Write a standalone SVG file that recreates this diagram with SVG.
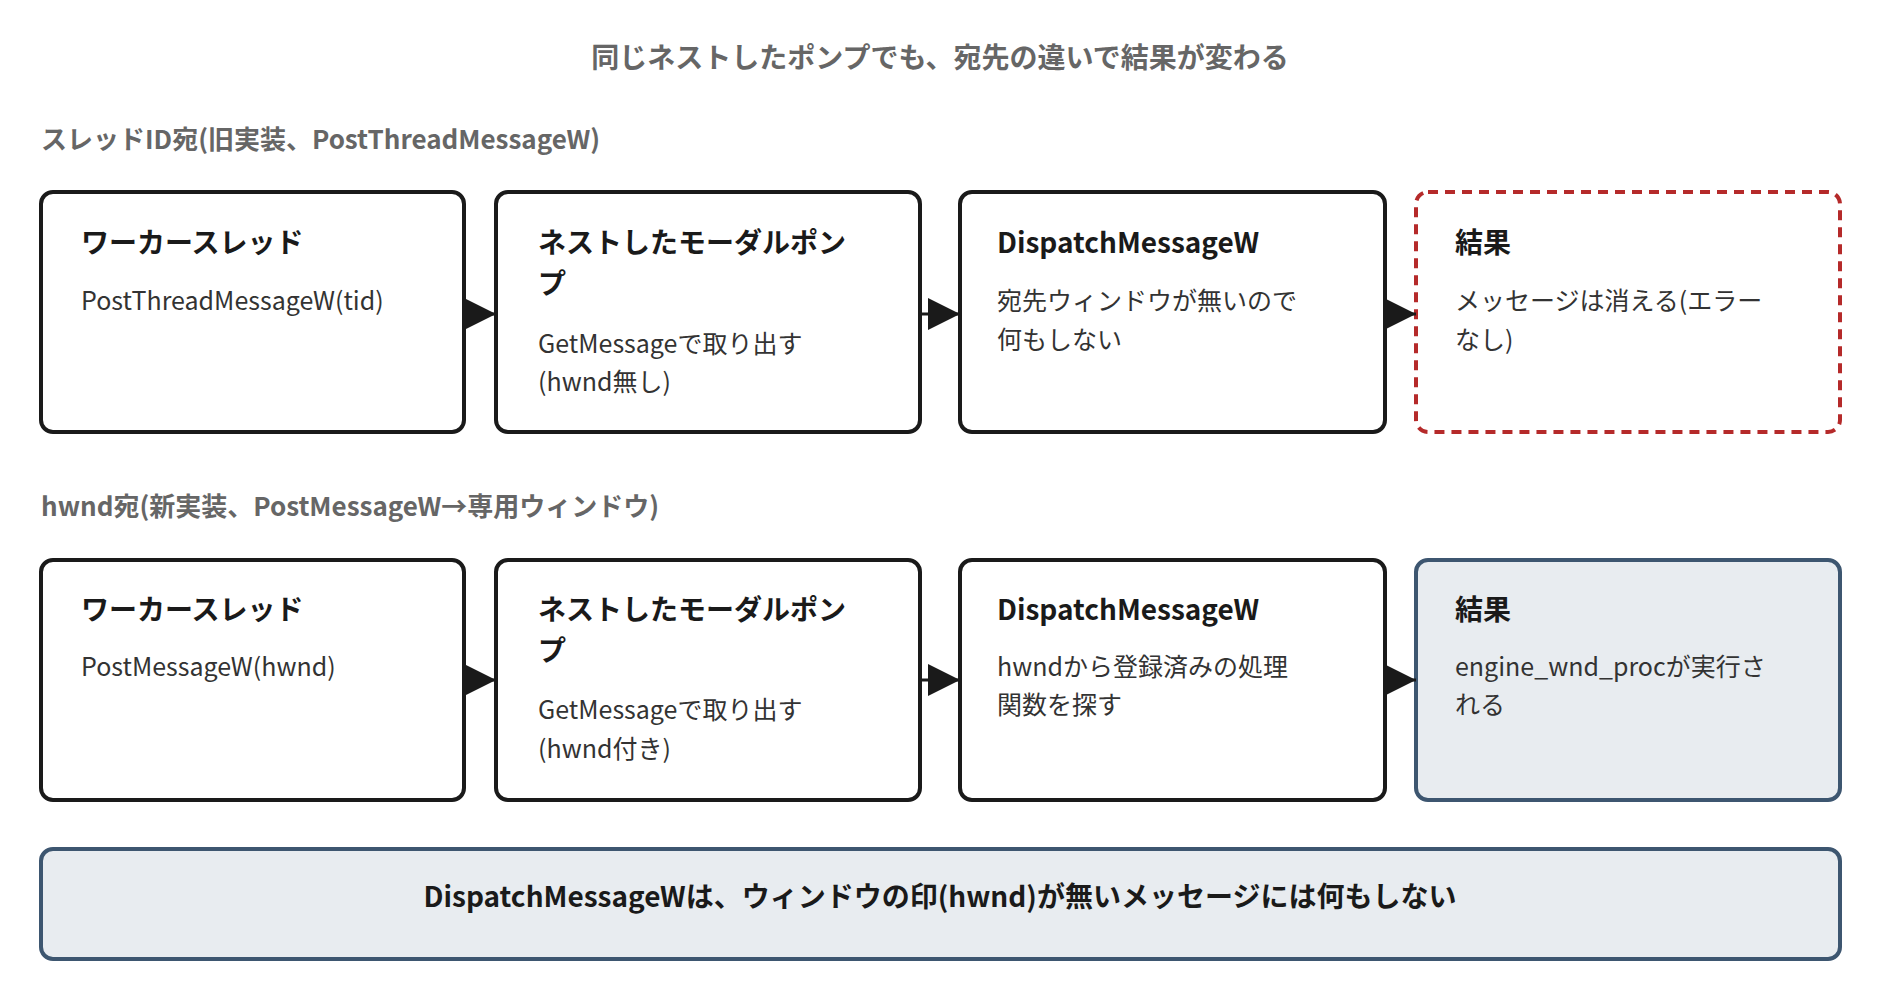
<svg xmlns="http://www.w3.org/2000/svg" width="1880" height="994" viewBox="0 0 1880 994">
<style>
text{font-family:"Noto Sans CJK JP","Noto Sans",sans-serif}
.box{fill:#fff;stroke:#1a1a1a;stroke-width:4}
.bad{fill:#fff;stroke:#b52a2a;stroke-width:4;stroke-dasharray:10 7}
.ok{fill:#e8ecf0;stroke:#3d5670;stroke-width:4}
.t{font-size:28px;font-weight:700;fill:#1a1a1a}
.b{font-size:25px;fill:#333}
.h{font-size:26px;font-weight:700;fill:#666}
.c{stroke:#1a1a1a;stroke-width:3;fill:none}
</style>
<defs><marker id="a" markerWidth="10" markerHeight="10" refX="10" refY="5" orient="auto" markerUnits="userSpaceOnUse" viewBox="0 0 10 10"><path d="M0,0L10,5L0,10z" fill="#1a1a1a"/></marker>
<marker id="m" viewBox="0 0 10 10" refX="10" refY="5" markerWidth="32" markerHeight="32" orient="auto" markerUnits="userSpaceOnUse"><path d="M0,0L10,5L0,10z" fill="#1a1a1a"/></marker></defs>
<text x="940" y="68" text-anchor="middle" class="h" style="font-size:28px">同じネストしたポンプでも、宛先の違いで結果が変わる</text>
<text x="41" y="149" class="h">スレッドID宛(旧実装、PostThreadMessageW)</text>
<text x="41" y="516" class="h">hwnd宛(新実装、PostMessageW→専用ウィンドウ)</text>
<g id="n1"><rect class="box" x="41" y="192" width="423" height="240" rx="12"/><text class="t" x="81" y="253">ワーカースレッド</text><text class="b" x="81" y="310">PostThreadMessageW(tid)</text></g>
<g id="n2"><rect class="box" x="496" y="192" width="424" height="240" rx="12"/><text class="t" x="538" y="253">ネストしたモーダルポン</text><text class="t" x="538" y="294">プ</text><text class="b" x="538" y="353">GetMessageで取り出す</text><text class="b" x="538" y="391">(hwnd無し)</text></g>
<g id="n3"><rect class="box" x="960" y="192" width="425" height="240" rx="12"/><text class="t" x="997" y="253">DispatchMessageW</text><text class="b" x="997" y="310">宛先ウィンドウが無いので</text><text class="b" x="997" y="349">何もしない</text></g>
<g id="n4"><rect class="bad" x="1416" y="192" width="424" height="240" rx="12"/><text class="t" x="1455" y="253">結果</text><text class="b" x="1455" y="310">メッセージは消える(エラー</text><text class="b" x="1455" y="349">なし)</text></g>
<g id="n5"><rect class="box" x="41" y="560" width="423" height="240" rx="12"/><text class="t" x="81" y="620">ワーカースレッド</text><text class="b" x="81" y="676">PostMessageW(hwnd)</text></g>
<g id="n6"><rect class="box" x="496" y="560" width="424" height="240" rx="12"/><text class="t" x="538" y="620">ネストしたモーダルポン</text><text class="t" x="538" y="661">プ</text><text class="b" x="538" y="719">GetMessageで取り出す</text><text class="b" x="538" y="758">(hwnd付き)</text></g>
<g id="n7"><rect class="box" x="960" y="560" width="425" height="240" rx="12"/><text class="t" x="997" y="620">DispatchMessageW</text><text class="b" x="997" y="676">hwndから登録済みの処理</text><text class="b" x="997" y="714">関数を探す</text></g>
<g id="n8"><rect class="ok" x="1416" y="560" width="424" height="240" rx="12"/><text class="t" x="1455" y="620">結果</text><text class="b" x="1455" y="676">engine_wnd_procが実行さ</text><text class="b" x="1455" y="714">れる</text></g>
<g id="n9"><rect class="ok" x="41" y="849" width="1799" height="110" rx="12"/><text class="t" x="940" y="907" text-anchor="middle">DispatchMessageWは、ウィンドウの印(hwnd)が無いメッセージには何もしない</text></g>
<g id="connectors">
<path class="c" d="M464,314L496,314" marker-end="url(#m)"/>
<path class="c" d="M920,314L960,314" marker-end="url(#m)"/>
<path class="c" d="M1385,314L1416,314" marker-end="url(#m)"/>
<path class="c" d="M464,680L496,680" marker-end="url(#m)"/>
<path class="c" d="M920,680L960,680" marker-end="url(#m)"/>
<path class="c" d="M1385,680L1416,680" marker-end="url(#m)"/>
</g>
</svg>
